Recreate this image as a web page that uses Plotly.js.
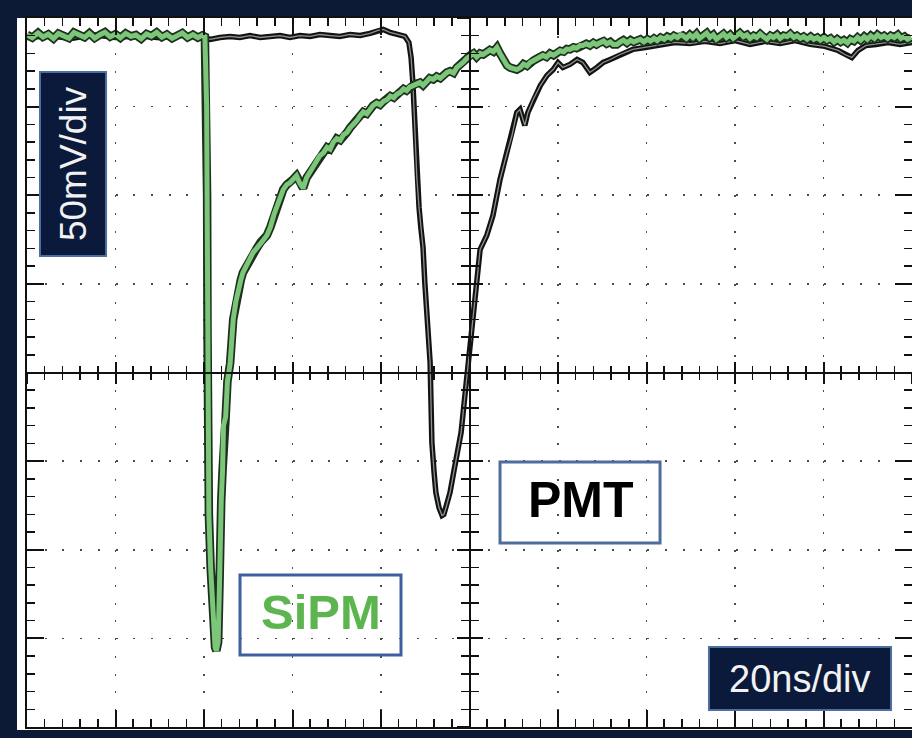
<!DOCTYPE html>
<html>
<head>
<meta charset="utf-8">
<script src="https://cdn.plot.ly/plotly-3.0.1.min.js"></script>
<style>html,body{margin:0;padding:0;background:#0d1a36;}#chart{width:912px;height:738px;}</style>
</head>
<body>
<div id="chart"></div>
<script>
// Time in ns (20 ns/div), voltage in mV (50 mV/div)
const sipmTime = [
  0, 1.2, 2.5, 3.6, 4.8, 6.0, 7.1, 8.3, 9.5, 10.6,
  11.8, 13.0, 14.1, 15.3, 16.5, 17.6, 18.8, 20.0, 21.1, 22.3,
  23.5, 24.6, 25.8, 27.0, 28.1, 29.3, 30.5, 31.6, 32.8, 34.0,
  35.1, 36.3, 37.5, 38.6, 39.6, 40.2, 40.6, 40.7, 40.8, 40.9,
  41.1, 41.5, 42.0, 42.5, 42.8, 43.2, 43.5, 43.6, 43.9, 44.2,
  44.4, 44.9, 45.3, 45.9, 46.6, 47.2, 47.7, 48.3, 48.8, 49.7,
  50.5, 51.1, 51.9, 52.8, 53.5, 54.2, 55.0, 55.8, 56.5, 57.2,
  57.9, 58.7, 59.4, 60.1, 60.9, 61.6, 62.4, 63.2, 64.0, 64.8,
  65.5, 66.2, 67.0, 67.8, 68.5, 69.2, 70.0, 70.8, 71.5, 72.3,
  73.0, 73.8, 74.5, 75.3, 76.0, 76.8, 77.5, 78.2, 79.0, 79.8,
  80.6, 81.4, 82.1, 82.9, 83.6, 84.3, 85.1, 85.8, 86.5, 87.2,
  88.0, 88.8, 89.5, 90.3, 91.0, 91.8, 92.6, 93.4, 94.1, 94.9,
  95.6, 96.4, 97.1, 97.8, 98.6, 99.3, 100.1, 100.9, 101.6, 102.4,
  103.1, 103.9, 104.6, 105.4, 106.2, 106.9, 107.7, 108.5, 109.2, 110.0,
  110.7, 111.5, 112.2, 113.0, 113.7, 114.5, 115.2, 116.0, 116.6, 117.4,
  118.2, 119.0, 119.8, 120.5, 121.3, 122.0, 122.7, 123.5, 124.2, 125.0,
  125.6, 126.4, 127.2, 128.0, 128.7, 129.5, 130.3, 131.0, 131.8, 132.5,
  133.3, 134.1, 134.8, 135.6, 136.4, 137.1, 137.9, 138.6, 139.4, 140.2,
  140.9, 141.7, 142.4, 143.2, 144.0, 144.7, 145.5, 146.2, 147.0, 147.7,
  148.2, 149.0, 149.8, 150.5, 151.3, 152.0, 152.8, 153.6, 154.3, 155.1,
  155.8, 156.6, 157.4, 158.1, 158.9, 159.6, 160.4, 161.1, 161.9, 162.7,
  163.4, 164.2, 164.9, 165.7, 166.4, 167.2, 168.0, 168.7, 169.5, 170.2,
  171.0, 171.8, 172.5, 173.3, 174.0, 174.8, 175.5, 176.3, 177.1, 177.8,
  178.6, 179.3, 180.1, 180.8, 181.6, 182.4, 183.1, 183.9, 184.6, 185.4,
  186.1, 186.9, 187.7, 188.4, 189.2, 189.9, 190.7, 191.5, 192.2, 193.0,
  193.7, 194.5, 195.2, 196.0, 196.8, 197.5, 198.3, 199.0, 199.8
];
const sipmVolt = [
  190.5, 188.9, 191.6, 189.3, 190.8, 188.4, 191.2, 189.9, 188.6, 191.8,
  190.2, 189.1, 191.4, 188.7, 190.6, 192.0, 189.4, 190.9, 188.8, 191.3,
  189.6, 190.4, 188.3, 191.0, 189.8, 191.9, 189.2, 190.7, 188.5, 190.3,
  191.5, 189.0, 190.6, 188.9, 190.2, 189.5, 150, 100, 20, -60,
  -80, -110, -140, -155, -157, -152, -120, -80, -72, -55,
  -30, -25, -5, 5, 29.9, 40, 46.8, 52, 56.4, 61,
  65, 67.7, 70, 73.5, 75, 77.3, 82, 89, 94.2, 99,
  103.2, 106, 107, 108.9, 111, 107, 104, 110, 113, 116,
  119, 122.4, 124, 127, 126, 129.8, 132, 131, 134, 135.4,
  138, 140, 142, 145, 147, 146, 149, 150.6, 152, 151,
  153, 154, 156, 155, 157, 158, 160, 159, 161, 161.9,
  163, 163.6, 162, 164, 166, 165.3, 167, 166, 168, 169.3,
  170, 169, 172, 173.2, 175, 177, 178.9, 180, 178, 180,
  179.4, 181, 182, 181, 183.4, 180, 176, 173.2, 172, 171,
  170.9, 172, 174, 173, 174.9, 176, 177, 178, 178.9, 178,
  180, 179, 180.5, 181.5, 181, 182.5, 182.3, 183.5, 183, 184.5,
  184.5, 185.5, 184.5, 186, 185, 186.2, 187, 185.5, 186.5, 185,
  185, 186.5, 187.5, 186, 187.5, 186.5, 187.3, 188, 186.5, 188,
  187, 188.5, 187.3, 189, 188, 189.5, 188.5, 190, 189, 190.5,
  190.1, 188.5, 190.5, 189, 191, 188.5, 190, 191.5, 189, 190.5,
  188, 190, 191, 189, 190.5, 188.5, 190, 191.5, 189.5, 190.5,
  188.5, 190, 189, 191, 189.5, 188, 190, 189, 190.5, 188.5,
  190, 189.5, 191, 189, 190, 188.5, 189.5, 188, 189.5, 188,
  189, 187.5, 189, 187.5, 188.5, 186.5, 188, 186.5, 187.5, 186,
  188, 187, 189, 187.5, 189.5, 188, 190, 188.5, 190.5, 189,
  190, 188.5, 190, 189, 190.5, 188.5, 189.5, 188, 189
];
const pmtTime = [
  0, 5, 10, 15, 20, 25, 30, 35, 40, 41.4,
  43.6, 45.9, 48.1, 50.4, 52.7, 54.9, 57.2, 59.4, 61.7, 64.0,
  66.2, 68.5, 70.7, 73.0, 75.3, 77.5, 79.3, 80.5, 82.0, 83.8,
  85.4, 86.3, 86.8, 87.2, 87.5, 87.7, 88.1, 88.6, 89.0, 89.5,
  89.9, 90.4, 90.8, 91.1, 91.3, 91.5, 92.0, 92.4, 93.1, 93.8,
  94.2, 94.7, 95.6, 96.5, 97.4, 98.1, 98.8, 99.4, 100.1, 100.8,
  101.7, 102.4, 103.9, 105.3, 106.9, 108.5, 109.6, 110.7, 111.4, 112.5,
  113.2, 114.4, 116.0, 117.5, 118.9, 120.0, 121.1, 122.7, 124.3, 125.6,
  127.2, 128.8, 130.2, 131.8, 134.0, 136.9, 139.7, 143.0, 146.4, 149.8,
  153.2, 156.6, 160.0, 163.4, 166.8, 170.2, 173.6, 177.0, 180.3, 183.3,
  184.8, 186.4, 187.8, 189.6, 191.9, 194.6, 197.3, 200
];
const pmtVolt = [
  189, 190, 188.5, 190.5, 189, 190, 188.8, 190.2, 189, 187.9,
  189, 189.6, 189, 190.1, 189, 189.6, 190.1, 189, 190.1, 189.6,
  190.7, 190.1, 189.6, 190.7, 190.1, 191.3, 193, 193.5, 191.9, 190.7,
  189.6, 186.2, 177.7, 163.6, 146.6, 129.8, 110, 93.1, 81.8, 70.5,
  50.8, 31, 16.9, 5.6, -16.9, -39.5, -56.4, -67.7, -76.2, -80.7,
  -80.1, -76.2, -67.7, -55.3, -44, -33.9, -16.9, -2.8, 11.3, 29.9,
  52.5, 69.4, 77.3, 88.6, 108.9, 124.1, 133.7, 146.7, 148.4, 139.4,
  146.7, 154, 161.9, 167.6, 170.9, 174.9, 172.1, 173.8, 176.6, 174.9,
  169.3, 172.1, 174.9, 176.6, 179.4, 182.3, 183.4, 185.1, 186.2, 185.6,
  186.8, 185.6, 187.3, 185.1, 186.8, 185.6, 187.3, 185.1, 184, 181.7,
  179.4, 177.7, 181.7, 184.5, 185.1, 186.2, 185.1, 186.2
];
const xRange = [0, 200];   // 10 div x 20 ns
const yRange = [-200, 200]; // 8 div x 50 mV
const labels = {vdiv: '50mV/div', hdiv: '20ns/div', pmt: 'PMT', sipm: 'SiPM'};

const NAVY = '#0d1a36';
const INK = '#111111';

const traces = [
  {x: pmtTime, y: pmtVolt, type: 'scatter', mode: 'lines', line: {color: '#121212', width: 5.5}, hoverinfo: 'skip'},
  {x: pmtTime, y: pmtVolt, type: 'scatter', mode: 'lines', line: {color: '#8a948a', width: 1.3}, hoverinfo: 'skip'},
  {x: sipmTime, y: sipmVolt, type: 'scatter', mode: 'lines', line: {color: '#1d301d', width: 8.5}, hoverinfo: 'skip'},
  {x: sipmTime, y: sipmVolt, type: 'scatter', mode: 'lines', line: {color: '#7cc67a', width: 5}, hoverinfo: 'skip'},
  // empty traces so the centre-cross axes get their subplots
  {x: [], y: [], type: 'scatter', xaxis: 'x2', yaxis: 'y', hoverinfo: 'skip'},
  {x: [], y: [], type: 'scatter', xaxis: 'x3', yaxis: 'y', hoverinfo: 'skip'},
  {x: [], y: [], type: 'scatter', xaxis: 'x', yaxis: 'y2', hoverinfo: 'skip'},
  {x: [], y: [], type: 'scatter', xaxis: 'x', yaxis: 'y3', hoverinfo: 'skip'}
];

function borderAxis(range, dtick, minorDtick) {
  return {
    range: range, fixedrange: true, showline: true, linecolor: INK, linewidth: 2, mirror: 'ticks',
    ticks: 'inside', ticklen: 17, tickwidth: 2, tickcolor: INK, dtick: dtick, tick0: 0,
    showticklabels: false, zeroline: false,
    showgrid: true, gridcolor: '#4a4a4a', gridwidth: 1.6, griddash: '2px,15.72px',
    minor: {ticks: 'inside', dtick: minorDtick, tick0: 0, ticklen: 8, tickwidth: 1.5, tickcolor: INK, showgrid: false}
  };
}
function centreAxis(range, dtick, minorDtick, overlay, dir, majLen, minLen) {
  return {
    overlaying: overlay, anchor: 'free', position: 0.5, range: range, fixedrange: true,
    showline: true, linecolor: INK, linewidth: 2,
    ticks: dir, ticklen: majLen, tickwidth: 2, tickcolor: INK, dtick: dtick, tick0: 0,
    showticklabels: false, showgrid: false, zeroline: false,
    minor: {ticks: dir, dtick: minorDtick, tick0: 0, ticklen: minLen, tickwidth: 1.5, tickcolor: INK, showgrid: false}
  };
}

const FONT = 'Liberation Sans, Arial, sans-serif';
const layout = {
  width: 912, height: 738,
  margin: {l: 27, r: 0, t: 18, b: 11, pad: 0},
  paper_bgcolor: NAVY, plot_bgcolor: '#ffffff',
  showlegend: false,
  xaxis: borderAxis(xRange, 20, 4),
  yaxis: borderAxis(yRange, 50, 10),
  xaxis2: centreAxis(xRange, 20, 4, 'x', 'outside', 10, 6),
  xaxis3: centreAxis(xRange, 20, 4, 'x', 'inside', 10, 6),
  yaxis2: centreAxis(yRange, 50, 10, 'y', 'outside', 12, 8),
  yaxis3: centreAxis(yRange, 50, 10, 'y', 'inside', 12, 8),
  shapes: [
    {type: 'rect', xref: 'paper', yref: 'paper', x0: -0.0113, x1: 1.02, y0: -0.0042, y1: 1, fillcolor: '#ffffff', line: {width: 0}, layer: 'below'},
    {type: 'rect', xref: 'paper', yref: 'paper', x0: 0.0147, x1: 0.0893, y0: 0.6643, y1: 0.9238, fillcolor: '#0b1a3b', line: {color: '#4d6f9f', width: 2}, layer: 'above'},
    {type: 'rect', xref: 'paper', yref: 'paper', x0: 0.7706, x1: 0.9763, y0: 0.024, y1: 0.1128, fillcolor: '#0b1a3b', line: {color: '#4d6f9f', width: 2}, layer: 'above'},
    {type: 'rect', xref: 'paper', yref: 'paper', x0: 0.5345, x1: 0.7153, y0: 0.2595, y1: 0.3738, fillcolor: 'rgba(0,0,0,0)', line: {color: '#4f6d9c', width: 3}, layer: 'above'},
    {type: 'rect', xref: 'paper', yref: 'paper', x0: 0.2407, x1: 0.4226, y0: 0.1016, y1: 0.2144, fillcolor: 'rgba(0,0,0,0)', line: {color: '#3f5f9f', width: 3}, layer: 'above'}
  ],
  annotations: [
    {xref: 'paper', yref: 'paper', x: 0.052, y: 0.794, xanchor: 'center', yanchor: 'middle', text: labels.vdiv, textangle: -90, showarrow: false,
     font: {family: FONT, size: 37, color: '#f2f2f2'}},
    {xref: 'paper', yref: 'paper', x: 0.8734, y: 0.0677, xanchor: 'center', yanchor: 'middle', text: labels.hdiv, showarrow: false,
     font: {family: FONT, size: 38, color: '#f2f2f2'}},
    {xref: 'paper', yref: 'paper', x: 0.626, y: 0.3202, xanchor: 'center', yanchor: 'middle', text: labels.pmt, showarrow: false,
     font: {family: FONT, size: 50, color: '#000000', weight: 700}},
    {xref: 'paper', yref: 'paper', x: 0.3322, y: 0.1622, xanchor: 'center', yanchor: 'middle', text: labels.sipm, showarrow: false,
     font: {family: FONT, size: 49, color: '#5cb54e', weight: 700}}
  ]
};

Plotly.newPlot('chart', traces, layout, {staticPlot: true, displayModeBar: false});
</script>
</body>
</html>
